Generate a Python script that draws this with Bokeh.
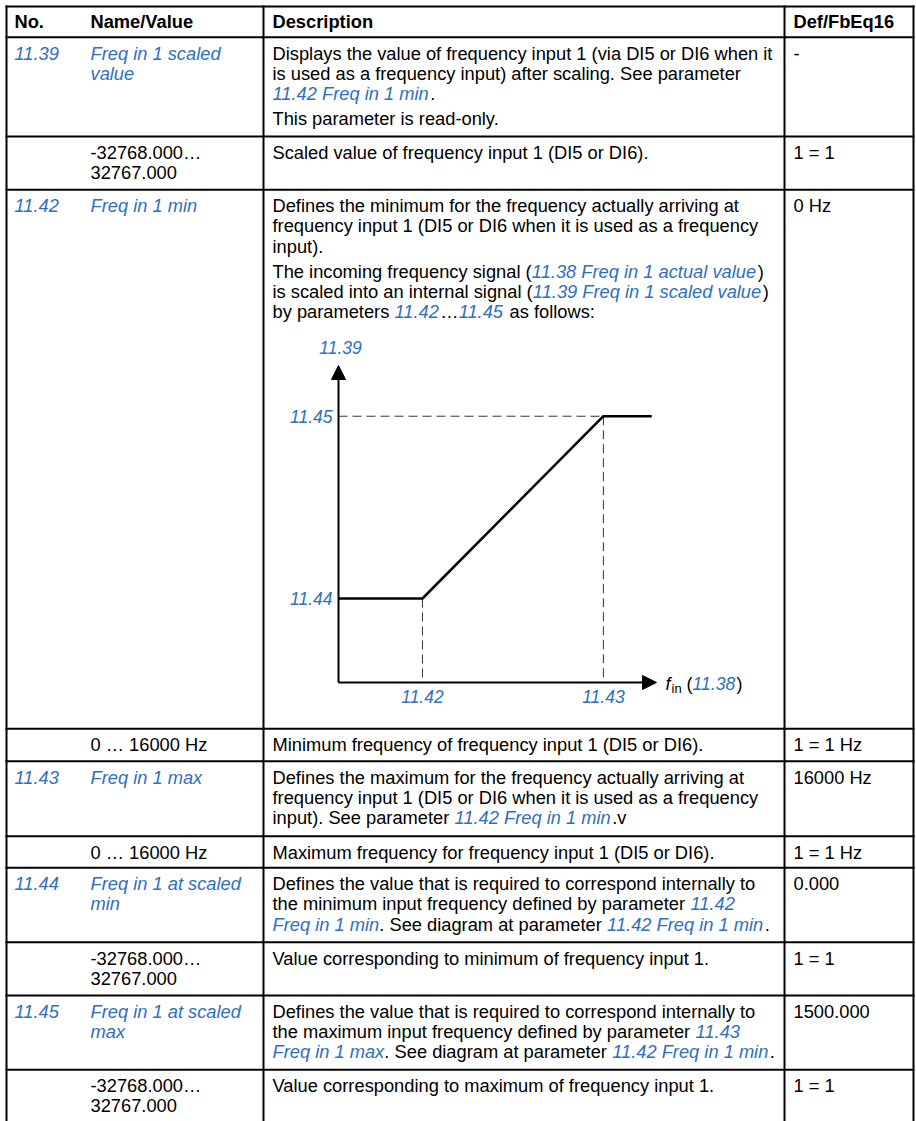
from bokeh.plotting import figure
from bokeh.models import ColumnDataSource, Range1d, Arrow, NormalHead
from bokeh.core.properties import value
from bokeh.embed import file_html
from bokeh.resources import INLINE

# ---------------- data ----------------
headers = ["No.", "Name/Value", "Description", "Def/FbEq16"]

param_no = ["11.39", "", "11.42", "", "11.43", "", "11.44", "", "11.45", ""]

name_lines = [
    ["Freq in 1 scaled", "value"],
    ["-32768.000…", "32767.000"],
    ["Freq in 1 min"],
    ["0 … 16000 Hz"],
    ["Freq in 1 max"],
    ["0 … 16000 Hz"],
    ["Freq in 1 at scaled", "min"],
    ["-32768.000…", "32767.000"],
    ["Freq in 1 at scaled", "max"],
    ["-32768.000…", "32767.000"],
]

# description: paragraphs -> lines -> segments (text, is_link)
desc_1139 = [
    [[("Displays the value of frequency input 1 (via DI5 or DI6 when it", 0)],
     [("is used as a frequency input) after scaling. See parameter", 0)],
     [("11.42 Freq in 1 min", 1), (".", 0)]],
    [[("This parameter is read-only.", 0)]],
]
desc_1139_v = [[[("Scaled value of frequency input 1 (DI5 or DI6).", 0)]]]
desc_1142 = [
    [[("Defines the minimum for the frequency actually arriving at", 0)],
     [("frequency input 1 (DI5 or DI6 when it is used as a frequency", 0)],
     [("input).", 0)]],
    [[("The incoming frequency signal (", 0), ("11.38 Freq in 1 actual value", 1), (")", 0)],
     [("is scaled into an internal signal (", 0), ("11.39 Freq in 1 scaled value", 1), (")", 0)],
     [("by parameters ", 0), ("11.42", 1), ("…", 0), ("11.45", 1), (" as follows:", 0)]],
]
desc_1142_v = [[[("Minimum frequency of frequency input 1 (DI5 or DI6).", 0)]]]
desc_1143 = [
    [[("Defines the maximum for the frequency actually arriving at", 0)],
     [("frequency input 1 (DI5 or DI6 when it is used as a frequency", 0)],
     [("input). See parameter ", 0), ("11.42 Freq in 1 min", 1), (".v", 0)]],
]
desc_1143_v = [[[("Maximum frequency for frequency input 1 (DI5 or DI6).", 0)]]]
desc_1144 = [
    [[("Defines the value that is required to correspond internally to", 0)],
     [("the minimum input frequency defined by parameter ", 0), ("11.42", 1)],
     [("Freq in 1 min", 1), (". See diagram at parameter ", 0), ("11.42 Freq in 1 min", 1), (".", 0)]],
]
desc_1144_v = [[[("Value corresponding to minimum of frequency input 1.", 0)]]]
desc_1145 = [
    [[("Defines the value that is required to correspond internally to", 0)],
     [("the maximum input frequency defined by parameter ", 0), ("11.43", 1)],
     [("Freq in 1 max", 1), (". See diagram at parameter ", 0), ("11.42 Freq in 1 min", 1), (".", 0)]],
]
desc_1145_v = [[[("Value corresponding to maximum of frequency input 1.", 0)]]]

descriptions = [desc_1139, desc_1139_v, desc_1142, desc_1142_v, desc_1143,
                desc_1143_v, desc_1144, desc_1144_v, desc_1145, desc_1145_v]

defaults = ["-", "1 = 1", "0 Hz", "1 = 1 Hz", "16000 Hz", "1 = 1 Hz",
            "0.000", "1 = 1", "1500.000", "1 = 1"]

# diagram (schematic units, axes run 0..100)
diag_in = [0, 26.4, 83.3, 98.5]      # f_in: origin, 11.42, 11.43, end
diag_out = [26.5, 26.5, 84.0, 84.0]  # 11.39: 11.44 ... 11.45
diag_in_labels = ["11.42", "11.43"]
diag_out_labels = ["11.44", "11.45"]
diag_y_name = "11.39"
diag_x_name = [("f", "f"), ("in", "sub"), (" (", "n"), ("11.38", "b"), (")", "n")]

# ---------------- layout ----------------
W, H = 916, 1121
BLUE = "#2f6fc0"
FONT = value("Liberation Sans")
FS = 18.3
LH = 20.3
PGAP = 4.5
BASE = 15.8
HEAD_Y = 20.5
row_tops = [36.7, 136, 189.3, 728.3, 760.7, 835.7, 867.3, 941.7, 995, 1069.3]
table_top, table_bottom = 6, 1130
col_lines = [6, 263, 784, 913]
col_text = [14, 90, 272, 793]

_w = {' ': 278, '!': 278, '(': 333, ')': 333, ',': 278, '-': 333, '.': 278, '/': 278,
      ':': 278, '=': 584, '…': 1000,
      'A': 667, 'B': 667, 'C': 722, 'D': 722, 'E': 667, 'F': 611, 'G': 778, 'H': 722,
      'I': 278, 'J': 500, 'K': 667, 'L': 556, 'M': 833, 'N': 722, 'O': 778, 'P': 667,
      'Q': 778, 'R': 722, 'S': 667, 'T': 611, 'U': 722, 'V': 667, 'W': 944, 'X': 667,
      'Y': 667, 'Z': 611,
      'a': 556, 'b': 556, 'c': 500, 'd': 556, 'e': 556, 'f': 278, 'g': 556, 'h': 556,
      'i': 222, 'j': 222, 'k': 500, 'l': 222, 'm': 833, 'n': 556, 'o': 556, 'p': 556,
      'q': 556, 'r': 333, 's': 500, 't': 278, 'u': 556, 'v': 500, 'w': 722, 'x': 500,
      'y': 500, 'z': 500}


def tw(s, size):
    return sum(_w.get(c, 556) for c in s) / 1000.0 * size


p = figure(width=W, height=H, output_backend="svg", toolbar_location=None, tools="",
           x_range=Range1d(0, W), y_range=Range1d(H, 0),
           x_axis_location=None, y_axis_location=None, min_border=0,
           outline_line_color=None, background_fill_color="white",
           border_fill_color="white")
p.xgrid.visible = False
p.ygrid.visible = False

# table rules
hx0, hx1, hy = [], [], []
for y in [table_top] + row_tops:
    hx0.append(col_lines[0] - 1); hx1.append(col_lines[-1] + 1); hy.append(y)
p.segment(x0=hx0, y0=hy, x1=hx1, y1=hy, line_color="black", line_width=2)
p.segment(x0=col_lines, y0=[table_top - 1] * 4, x1=col_lines, y1=[table_bottom] * 4,
          line_color="black", line_width=2)

# text collection
groups = {}


def add(x, y, s, color="black", fstyle="normal", size=FS):
    # SVG collapses leading blanks, so advance by them explicitly
    stripped = s.lstrip(" ")
    x += tw(s[:len(s) - len(stripped)], size)
    g = groups.setdefault((color, fstyle, size), {"x": [], "y": [], "text": []})
    g["x"].append(x); g["y"].append(y); g["text"].append(stripped)


for cx, h in zip(col_text, headers):
    add(cx, HEAD_Y, h, fstyle="bold")

for i, top in enumerate(row_tops):
    y0 = top + BASE
    is_param = param_no[i] != ""
    if is_param:
        add(col_text[0], y0, param_no[i], BLUE, "italic")
    for k, ln in enumerate(name_lines[i]):
        if is_param:
            add(col_text[1], y0 + k * LH, ln, BLUE, "italic")
        else:
            add(col_text[1], y0 + k * LH, ln)
    y = y0
    for pi, para in enumerate(descriptions[i]):
        if pi > 0:
            y += PGAP
        for line in para:
            cx = col_text[2]
            for txt, link in line:
                if link:
                    add(cx, y, txt, BLUE, "italic")
                else:
                    add(cx, y, txt)
                cx += tw(txt, FS)
            y += LH
    add(col_text[3], y0, defaults[i])

for (color, fstyle, size), g in groups.items():
    p.text(x="x", y="y", text="text", source=ColumnDataSource(g), text_color=color,
           text_font=FONT, text_font_style=fstyle, text_font_size=f"{size}px",
           text_baseline="middle", text_align="left")

# ---------------- diagram (own ranges) ----------------
ox, oy = 338, 682         # page position of diagram origin
sx, sy = 3.18, 3.17       # px per schematic unit
p.extra_x_ranges = {"dx": Range1d((0 - ox) / sx, (W - ox) / sx)}
p.extra_y_ranges = {"dy": Range1d((oy - H) / sy, (oy - 0) / sy)}
D = dict(x_range_name="dx", y_range_name="dy")

# dashed guides
p.segment(x0=[0, diag_in[2], diag_in[1]], y0=[diag_out[2], diag_out[2], diag_out[1]],
          x1=[diag_in[2], diag_in[2], diag_in[1]], y1=[diag_out[2], 0, 0],
          line_color="#333333", line_width=1, line_dash="9 5", **D)
# axes with arrow heads
for xe, ye in [(0, 100), (100, 0)]:
    p.add_layout(Arrow(end=NormalHead(size=14, fill_color="black", line_color="black"),
                       x_start=0, y_start=0, x_end=xe, y_end=ye, line_width=2,
                       line_color="black", **D))
# characteristic
p.line(diag_in, diag_out, line_color="black", line_width=2.5, **D)

LFS = 17.5
lab = dict(text_font=FONT, text_font_style="italic", text_font_size=f"{LFS}px",
           text_color=BLUE, text_baseline="middle")
p.text(x=[-6 / sx] * 2, y=[diag_out[1], diag_out[2]], text=diag_out_labels,
       text_align="right", **lab, **D)
p.text(x=[diag_in[1], diag_in[2]], y=[-14 / sy] * 2, text=diag_in_labels,
       text_align="center", **lab, **D)
p.text(x=[2 / sx], y=[100 + 18 / sy], text=[diag_y_name], text_align="center", **lab, **D)

# f_in (11.38)
c = 100 + 9 / sx
styles = {"f": ("black", "italic", 18, -1), "sub": ("black", "normal", 13, -6),
          "n": ("black", "normal", 18, -1), "b": (BLUE, "italic", LFS, -1)}
for txt, st in diag_x_name:
    col, fst, sz, dy = styles[st]
    stripped = txt.lstrip(" ")
    cx = c + tw(txt[:len(txt) - len(stripped)], sz) / sx
    p.text(x=[cx], y=[dy / sy], text=[stripped], text_font=FONT, text_font_style=fst,
           text_font_size=f"{sz}px", text_color=col, text_baseline="middle", **D)
    c += (tw(txt, sz) + (1 if st == "f" else 0)) / sx

open("out.html", "w").write(file_html(p, INLINE))
